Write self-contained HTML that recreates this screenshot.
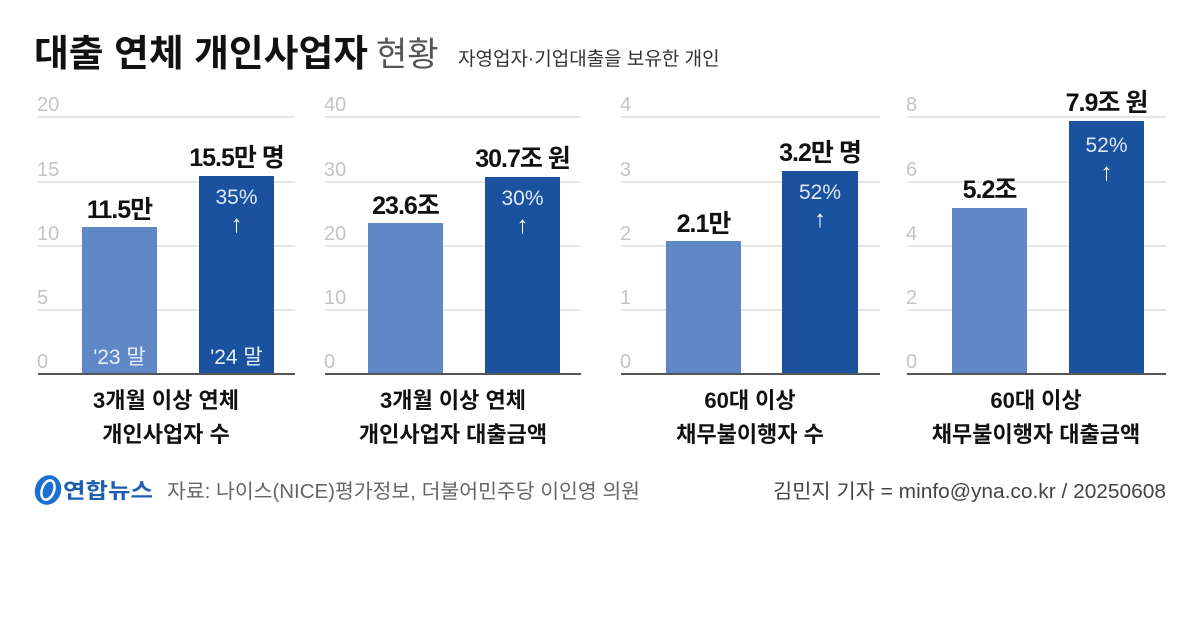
<!DOCTYPE html>
<html><head><meta charset="utf-8"><style>
body{margin:0;background:#fff;}
svg text{font-family:"Liberation Sans","Noto Sans CJK KR",sans-serif;}
</style></head><body>
<svg width="1200" height="618" viewBox="0 0 1200 618" xmlns="http://www.w3.org/2000/svg">
<rect width="1200" height="618" fill="#fff"/>
<text x="34" y="66" font-size="37" font-weight="bold" fill="#111" textLength="334" lengthAdjust="spacingAndGlyphs">대출 연체 개인사업자</text>
<text x="376" y="66" font-size="34" fill="#555">현황</text>
<text x="458" y="65" font-size="19" fill="#333">자영업자·기업대출을 보유한 개인</text>

<g id="p1">
<g stroke="#d6d6d6" stroke-width="1.3">
<line x1="38" y1="117" x2="295" y2="117"/><line x1="38" y1="182" x2="295" y2="182"/><line x1="38" y1="246" x2="295" y2="246"/><line x1="38" y1="310" x2="295" y2="310"/></g>
<g font-size="20" fill="#c4c4c4"><text x="37" y="111">20</text><text x="37" y="176">15</text><text x="37" y="240">10</text><text x="37" y="304">5</text><text x="37" y="368">0</text></g>
<rect x="82" y="227" width="75" height="147" fill="#6088c6"/>
<rect x="199" y="176" width="75" height="198" fill="#1a52a0"/>
<line x1="38" y1="374" x2="295" y2="374" stroke="#555" stroke-width="2"/>
<text x="119.5" y="218" font-size="25" font-weight="bold" text-anchor="middle" fill="#111" letter-spacing="-1">11.5만</text>
<text x="236.5" y="166" font-size="25" font-weight="bold" text-anchor="middle" fill="#111" letter-spacing="-1">15.5만 명</text>
<text x="236.5" y="204" font-size="21" text-anchor="middle" fill="#dfe8f5">35%</text>
<text x="236.5" y="232" font-size="24" text-anchor="middle" fill="#fff">↑</text>
<text x="119.5" y="364" font-size="21" text-anchor="middle" fill="#e6eef9">'23 말</text>
<text x="236.5" y="364" font-size="21" text-anchor="middle" fill="#e6eef9">'24 말</text>
<text x="166" y="408" font-size="22" font-weight="bold" text-anchor="middle" fill="#111">3개월 이상 연체</text>
<text x="166" y="442" font-size="22" font-weight="bold" text-anchor="middle" fill="#111">개인사업자 수</text>
</g>

<g id="p2">
<g stroke="#d6d6d6" stroke-width="1.3">
<line x1="325" y1="117" x2="581" y2="117"/><line x1="325" y1="182" x2="581" y2="182"/><line x1="325" y1="246" x2="581" y2="246"/><line x1="325" y1="310" x2="581" y2="310"/></g>
<g font-size="20" fill="#c4c4c4"><text x="324" y="111">40</text><text x="324" y="176">30</text><text x="324" y="240">20</text><text x="324" y="304">10</text><text x="324" y="368">0</text></g>
<rect x="368" y="223" width="75" height="151" fill="#6088c6"/>
<rect x="485" y="177" width="75" height="197" fill="#1a52a0"/>
<line x1="325" y1="374" x2="581" y2="374" stroke="#555" stroke-width="2"/>
<text x="405.5" y="214" font-size="25" font-weight="bold" text-anchor="middle" fill="#111" letter-spacing="-1">23.6조</text>
<text x="522.5" y="167" font-size="25" font-weight="bold" text-anchor="middle" fill="#111" letter-spacing="-1">30.7조 원</text>
<text x="522.5" y="205" font-size="21" text-anchor="middle" fill="#dfe8f5">30%</text>
<text x="522.5" y="233" font-size="24" text-anchor="middle" fill="#fff">↑</text>
<text x="453" y="408" font-size="22" font-weight="bold" text-anchor="middle" fill="#111">3개월 이상 연체</text>
<text x="453" y="442" font-size="22" font-weight="bold" text-anchor="middle" fill="#111">개인사업자 대출금액</text>
</g>

<g id="p3">
<g stroke="#d6d6d6" stroke-width="1.3">
<line x1="621" y1="117" x2="880" y2="117"/><line x1="621" y1="182" x2="880" y2="182"/><line x1="621" y1="246" x2="880" y2="246"/><line x1="621" y1="310" x2="880" y2="310"/></g>
<g font-size="20" fill="#c4c4c4"><text x="620" y="111">4</text><text x="620" y="176">3</text><text x="620" y="240">2</text><text x="620" y="304">1</text><text x="620" y="368">0</text></g>
<rect x="666" y="241" width="75" height="133" fill="#6088c6"/>
<rect x="782" y="171" width="76" height="203" fill="#1a52a0"/>
<line x1="621" y1="374" x2="880" y2="374" stroke="#555" stroke-width="2"/>
<text x="703.5" y="232" font-size="25" font-weight="bold" text-anchor="middle" fill="#111" letter-spacing="-1">2.1만</text>
<text x="820" y="161" font-size="25" font-weight="bold" text-anchor="middle" fill="#111" letter-spacing="-1">3.2만 명</text>
<text x="820" y="199" font-size="21" text-anchor="middle" fill="#dfe8f5">52%</text>
<text x="820" y="227" font-size="24" text-anchor="middle" fill="#fff">↑</text>
<text x="750" y="408" font-size="22" font-weight="bold" text-anchor="middle" fill="#111">60대 이상</text>
<text x="750" y="442" font-size="22" font-weight="bold" text-anchor="middle" fill="#111">채무불이행자 수</text>
</g>

<g id="p4">
<g stroke="#d6d6d6" stroke-width="1.3">
<line x1="907" y1="117" x2="1166" y2="117"/><line x1="907" y1="182" x2="1166" y2="182"/><line x1="907" y1="246" x2="1166" y2="246"/><line x1="907" y1="310" x2="1166" y2="310"/></g>
<g font-size="20" fill="#c4c4c4"><text x="906" y="111">8</text><text x="906" y="176">6</text><text x="906" y="240">4</text><text x="906" y="304">2</text><text x="906" y="368">0</text></g>
<rect x="952" y="208" width="75" height="166" fill="#6088c6"/>
<rect x="1069" y="121" width="75" height="253" fill="#1a52a0"/>
<line x1="907" y1="374" x2="1166" y2="374" stroke="#555" stroke-width="2"/>
<text x="989.5" y="198" font-size="25" font-weight="bold" text-anchor="middle" fill="#111" letter-spacing="-1">5.2조</text>
<text x="1106.5" y="111" font-size="25" font-weight="bold" text-anchor="middle" fill="#111" letter-spacing="-1">7.9조 원</text>
<text x="1106.5" y="152" font-size="21" text-anchor="middle" fill="#dfe8f5">52%</text>
<text x="1106.5" y="180" font-size="24" text-anchor="middle" fill="#fff">↑</text>
<text x="1036" y="408" font-size="22" font-weight="bold" text-anchor="middle" fill="#111">60대 이상</text>
<text x="1036" y="442" font-size="22" font-weight="bold" text-anchor="middle" fill="#111">채무불이행자 대출금액</text>
</g>

<ellipse cx="48" cy="490" rx="13" ry="15" fill="#1a6fd0" transform="rotate(20 48 490)"/>
<ellipse cx="48" cy="490" rx="6" ry="10" fill="none" stroke="#fff" stroke-width="2.5" transform="rotate(20 48 490)"/>
<text x="63" y="498" font-size="21" font-weight="bold" fill="#1a5fb4" textLength="90" lengthAdjust="spacingAndGlyphs">연합뉴스</text>
<text x="167" y="498" font-size="20" fill="#666" textLength="473" lengthAdjust="spacingAndGlyphs">자료: 나이스(NICE)평가정보, 더불어민주당 이인영 의원</text>
<text x="773" y="498" font-size="20" fill="#444" textLength="393" lengthAdjust="spacingAndGlyphs">김민지 기자 = minfo@yna.co.kr / 20250608</text>
</svg>
</body></html>
